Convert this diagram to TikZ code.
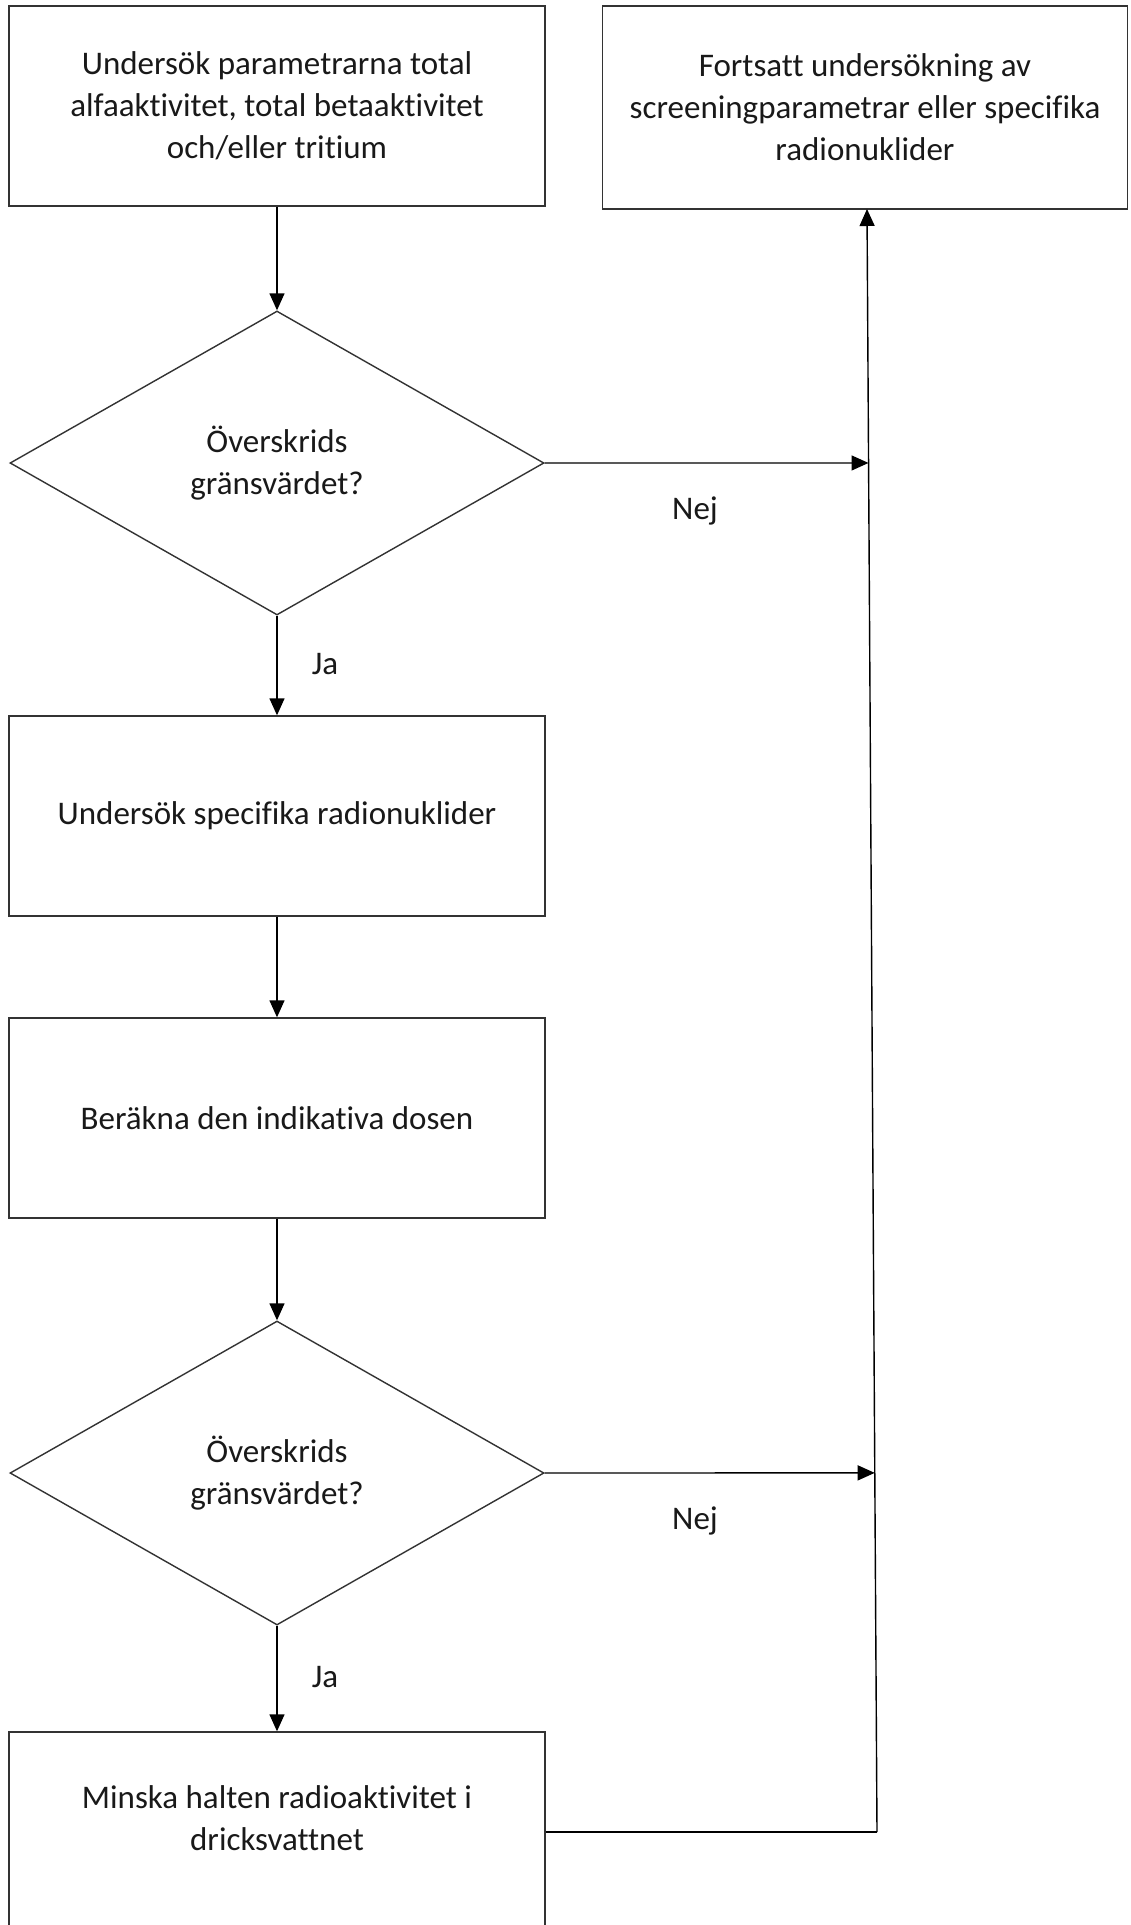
\documentclass[tikz,border=0pt]{standalone}
\usepackage{fontspec}
\setmainfont{Carlito}[Ligatures={NoCommon}]
\usetikzlibrary{shapes.geometric,arrows.meta,calc}
\begin{document}
\begin{tikzpicture}[x=1pt,y=-1pt,
  lbl/.style={font=\fontsize{33}{42}\selectfont, align=center, text=black!90},
  stepbox/.style={draw=black!80, line width=1.4pt, minimum width=536pt, minimum height=200pt, inner sep=0pt, lbl},
  decis/.style={draw=black!80, line width=1.4pt, diamond, minimum width=534pt, minimum height=304pt, inner sep=0pt, lbl},
  conn/.style={draw=black, line width=1.4pt},
  arr/.style={conn, -{Triangle[length=17pt,width=15pt]}}]
\useasboundingbox (0,0) rectangle (1130,1925);
\clip (0,0) rectangle (1130,1925);
\fill[white] (0,0) rectangle (1130,1925);
\node[stepbox] (b1) at (277,106) {Undersök parametrarna total\\alfaaktivitet, total betaaktivitet\\och/eller tritium};
\node[stepbox, minimum width=525pt, minimum height=203pt] (b2) at (865,107.5) {Fortsatt undersökning av\\screeningparametrar eller specifika\\radionuklider};
\node[decis] (d1) at (277,463) {Överskrids\\gränsvärdet?};
\node[stepbox] (b3) at (277,816) {Undersök specifika radionuklider};
\node[stepbox] (b4) at (277,1118) {Beräkna den indikativa dosen};
\node[decis] (d2) at (277,1473) {Överskrids\\gränsvärdet?};
\node[stepbox] (b5) at (277,1832) {};
\node[lbl] (b5t) at (277,1818) {Minska halten radioaktivitet i\\dricksvattnet};
\node[lbl] (ja1) at (325,664) {Ja};
\node[lbl] (ja2) at (325,1677) {Ja};
\node[lbl] (nej1) at (695,511) {Nej};
\node[lbl] (nej2) at (695,1521) {Nej};
\coordinate (corner) at (877,1832);
\coordinate (top) at (867,209);
\coordinate (h1) at ($(d1.east)+(400,0)$);
\coordinate (h2) at ($(d2.east)+(400,0)$);
\draw[arr] (b1.south) -- (d1.north);
\draw[arr] (d1.south) -- (b3.north);
\draw[arr] (b3.south) -- (b4.north);
\draw[arr] (b4.south) -- (d2.north);
\draw[arr] (d2.south) -- (b5.north);
\draw[conn] (b5.east) -- (corner);
\draw[arr] (corner) -- (top);
\draw[arr] (d1.east) -- (intersection of d1.east--h1 and corner--top);
\draw[arr] (d2.east) -- (intersection of d2.east--h2 and corner--top);
\end{tikzpicture}
\end{document}
